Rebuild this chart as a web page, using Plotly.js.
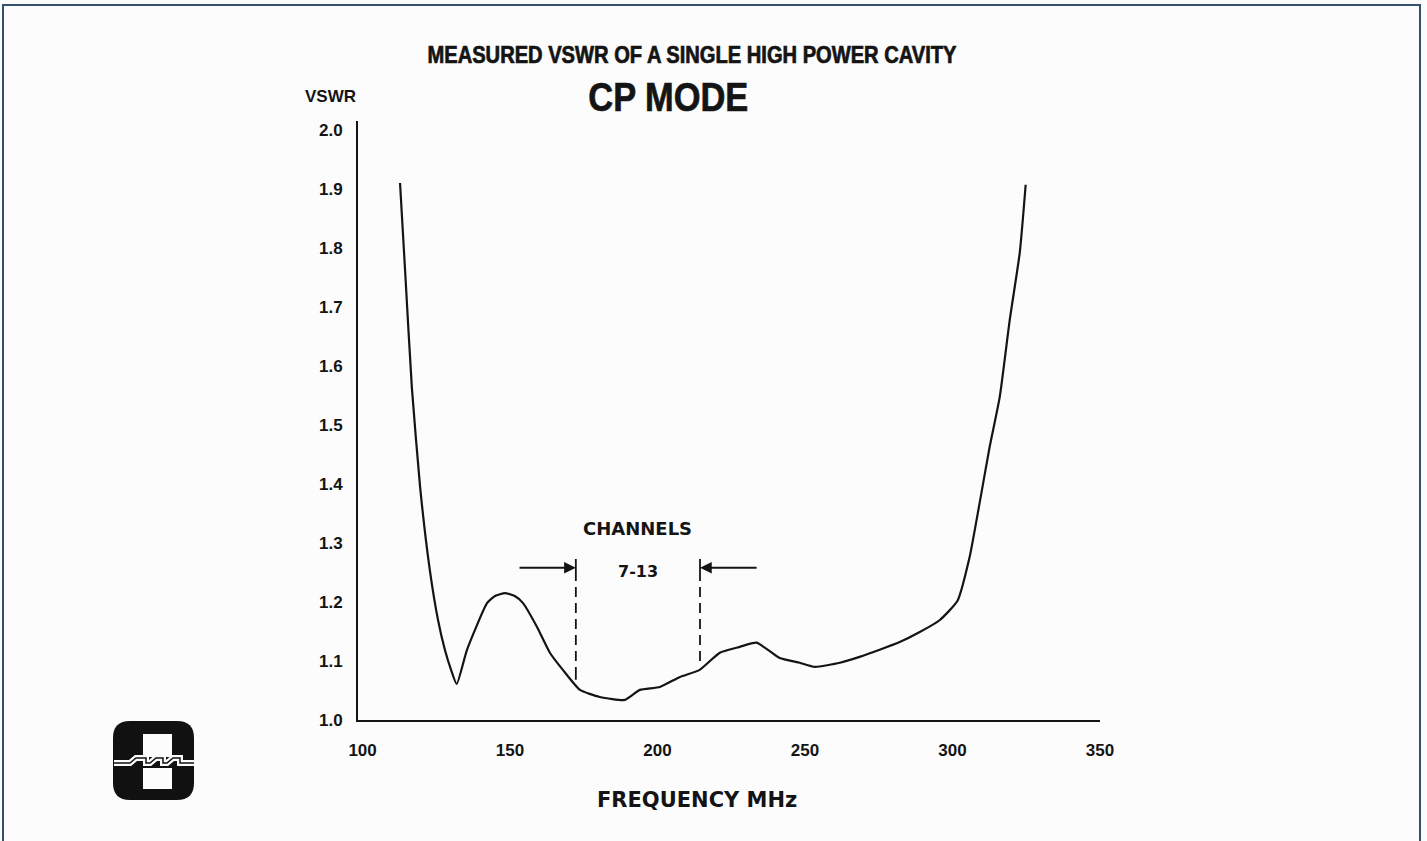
<!DOCTYPE html>
<html>
<head>
<meta charset="utf-8">
<script src="https://cdn.plot.ly/plotly-3.0.1.min.js"></script>
<style>
  html, body { margin: 0; padding: 0; background: #fcfcfc; }
  #chart { width: 1427px; height: 841px; }
</style>
</head>
<body>
<div id="chart"></div>
<script>
// ---- data ----
const freqMHz = [112.7, 114.4, 116.7, 119.5, 122.8, 125.6, 127.9, 130.0, 131.9, 135.4,
                 142.2, 144.9, 148.3, 151.6, 154.4, 159.1, 163.5, 167.9, 173.7, 180.4,
                 188.9, 194.0, 200.8, 207.6, 214.3, 221.1, 227.9, 233.6, 241.4, 248.2,
                 253.3, 261.8, 268.5, 275.3, 282.1, 288.9, 295.6, 301.7, 305.8, 309.2,
                 312.6, 316.0, 319.4, 322.8, 324.8];
const vswr = [1.910, 1.763, 1.564, 1.395, 1.254, 1.169, 1.119, 1.085, 1.061, 1.119,
              1.198, 1.210, 1.215, 1.210, 1.198, 1.158, 1.114, 1.085, 1.051, 1.039,
              1.034, 1.051, 1.056, 1.073, 1.085, 1.114, 1.124, 1.131, 1.105, 1.097,
              1.090, 1.097, 1.107, 1.119, 1.132, 1.149, 1.169, 1.202, 1.276, 1.368,
              1.463, 1.547, 1.678, 1.792, 1.907];
const xTickVals = [100, 150, 200, 250, 300, 350];
const yTickVals = [1.0, 1.1, 1.2, 1.3, 1.4, 1.5, 1.6, 1.7, 1.8, 1.9, 2.0];
const yTickText = ['1.0', '1.1', '1.2', '1.3', '1.4', '1.5', '1.6', '1.7', '1.8', '1.9', '2.0'];
const channelEdges = [172.3, 214.4];       // MHz, dashed boundary lines
const channelLineBottom = [1.068, 1.090];  // VSWR where each dashed line ends
const channelLineTop = 1.273;
const channelArrowY = 1.258;
const channelArrowTails = [152.7, 234.1];
const titleText = 'MEASURED VSWR OF A SINGLE HIGH POWER CAVITY';
const subtitleText = 'CP MODE';
const yLabel = 'VSWR';
const xLabel = 'FREQUENCY MHz';
const channelLabel = 'CHANNELS';
const channelRange = '7-13';

// ---- layout geometry ----
const W = 1427, H = 841;
const M = { l: 358, r: 327, t: 121, b: 121 };
const plotW = W - M.l - M.r, plotH = H - M.t - M.b;
const px = x => (x - M.l) / plotW;          // pixel -> paper x
const py = y => (H - M.b - y) / plotH;       // pixel -> paper y

const ink = '#141414';
const sans = 'Liberation Sans, Arial, Helvetica, sans-serif';
const wide = 'DejaVu Sans, Verdana, sans-serif';

const traces = [
  { x: freqMHz, y: vswr, type: 'scatter', mode: 'lines',
    line: { color: ink, width: 2.2, shape: 'spline', smoothing: 0.5 }, hoverinfo: 'skip' }
];
channelEdges.forEach((e, i) => {
  traces.push({ x: [e, e], y: [channelLineTop, channelLineBottom[i]], type: 'scatter', mode: 'lines',
    line: { color: ink, width: 1.8, dash: '22px,6px,10px,6px,10px,6px,10px,6px,10px,6px,10px,6px' }, hoverinfo: 'skip' });
});

// logo geometry (pixel -> paper)
function P(x, y) { return px(x).toFixed(5) + ',' + py(y).toFixed(5); }
function roundRect(x0, y0, x1, y1, r) {
  return 'M' + P(x0 + r, y0) + ' L' + P(x1 - r, y0) + ' Q' + P(x1, y0) + ' ' + P(x1, y0 + r) +
    ' L' + P(x1, y1 - r) + ' Q' + P(x1, y1) + ' ' + P(x1 - r, y1) +
    ' L' + P(x0 + r, y1) + ' Q' + P(x0, y1) + ' ' + P(x0, y1 - r) +
    ' L' + P(x0, y0 + r) + ' Q' + P(x0, y0) + ' ' + P(x0 + r, y0) + ' Z';
}
function rect(x0, y0, x1, y1) {
  return 'M' + P(x0, y0) + ' L' + P(x1, y0) + ' L' + P(x1, y1) + ' L' + P(x0, y1) + ' Z';
}
const wave = 'M' + P(114, 763) + ' L' + P(130, 763) + ' L' + P(136, 758) + ' L' + P(146, 758) + ' L' + P(146, 763) +
  ' L' + P(150, 763) + ' L' + P(156, 758) + ' L' + P(163, 758) + ' L' + P(163, 763) +
  ' L' + P(167, 763) + ' L' + P(173, 758) + ' L' + P(180, 758) + ' L' + P(180, 763) + ' L' + P(194, 763);

const shapes = [
  { type: 'rect', xref: 'paper', yref: 'paper', x0: px(3), x1: px(1420), y0: py(850), y1: py(5),
    line: { color: '#34506e', width: 2 }, fillcolor: 'rgba(0,0,0,0)', layer: 'below' },
  { type: 'path', xref: 'paper', yref: 'paper', path: roundRect(113, 721, 194, 800, 17),
    fillcolor: '#111', line: { width: 0 } },
  { type: 'path', xref: 'paper', yref: 'paper', path: rect(143, 734, 172, 757), fillcolor: '#fcfcfc', line: { width: 0 } },
  { type: 'path', xref: 'paper', yref: 'paper', path: rect(143, 768, 172, 789), fillcolor: '#fcfcfc', line: { width: 0 } },
  { type: 'path', xref: 'paper', yref: 'paper', path: wave, line: { color: '#fcfcfc', width: 6 } },
  { type: 'path', xref: 'paper', yref: 'paper', path: wave, line: { color: '#111', width: 1.5 } }
];

const annotations = [
  { text: subtitleText, xref: 'paper', yref: 'paper', x: px(668), y: py(97), xanchor: 'center', yanchor: 'middle',
    showarrow: false, font: { family: sans, size: 41, weight: 700, color: ink } },
  { text: yLabel, xref: 'paper', yref: 'paper', x: px(330), y: py(97), xanchor: 'center', yanchor: 'middle',
    showarrow: false, font: { family: sans, size: 17, weight: 700, color: ink } },
  { text: xLabel, xref: 'paper', yref: 'paper', x: px(697), y: py(800), xanchor: 'center', yanchor: 'middle',
    showarrow: false, font: { family: wide, size: 21, weight: 700, color: ink } },
  { text: channelLabel, xref: 'x', yref: 'y', x: (channelEdges[0] + channelEdges[1]) / 2, y: 1.325,
    xanchor: 'center', yanchor: 'middle', showarrow: false, font: { family: wide, size: 18, weight: 700, color: ink } },
  { text: channelRange, xref: 'x', yref: 'y', x: (channelEdges[0] + channelEdges[1]) / 2, y: 1.251,
    xanchor: 'center', yanchor: 'middle', showarrow: false, font: { family: wide, size: 16, weight: 700, color: ink } }
];
channelEdges.forEach((e, i) => {
  annotations.push({ x: e, y: channelArrowY, xref: 'x', yref: 'y', ax: channelArrowTails[i], ay: channelArrowY,
    axref: 'x', ayref: 'y', text: '', showarrow: true, arrowhead: 2, arrowsize: 1.3, arrowwidth: 1.8,
    arrowcolor: ink, standoff: 0 });
});

const layout = {
  width: W, height: H,
  margin: M,
  paper_bgcolor: '#fcfcfc', plot_bgcolor: 'rgba(0,0,0,0)',
  showlegend: false,
  hovermode: false,
  title: { text: titleText, x: 692 / W, xref: 'container', xanchor: 'center', y: 1 - 55 / H, yref: 'container',
    yanchor: 'middle', font: { family: sans, size: 23, weight: 700, color: ink } },
  xaxis: {
    range: [98.45, 350], tickvals: xTickVals, ticks: '', showgrid: false, zeroline: false,
    showline: true, linecolor: ink, linewidth: 2, ticklabelstandoff: 14,
    tickfont: { family: sans, size: 17, weight: 700, color: ink }
  },
  yaxis: {
    range: [1.0, 2.015], tickvals: yTickVals, ticktext: yTickText, ticks: '', showgrid: false, zeroline: false,
    showline: true, linecolor: ink, linewidth: 2, ticklabelstandoff: 10,
    tickfont: { family: sans, size: 17, weight: 700, color: ink }
  },
  shapes: shapes,
  annotations: annotations
};

// condense the heavy headline texts (the reference uses a condensed black face)
function condense(el, len) {
  if (!el) return;
  el.setAttribute('textLength', len);
  el.setAttribute('lengthAdjust', 'spacingAndGlyphs');
  el.style.stroke = ink;
  el.style.strokeWidth = '0.7px';
}

Plotly.newPlot('chart', traces, layout, { staticPlot: true, displayModeBar: false }).then(gd => {
  condense(gd.querySelector('.gtitle'), 529);
  const ann = gd.querySelectorAll('.annotation-text');
  ann.forEach(t => { if (t.textContent === subtitleText) condense(t, 160); });
});
</script>
</body>
</html>
